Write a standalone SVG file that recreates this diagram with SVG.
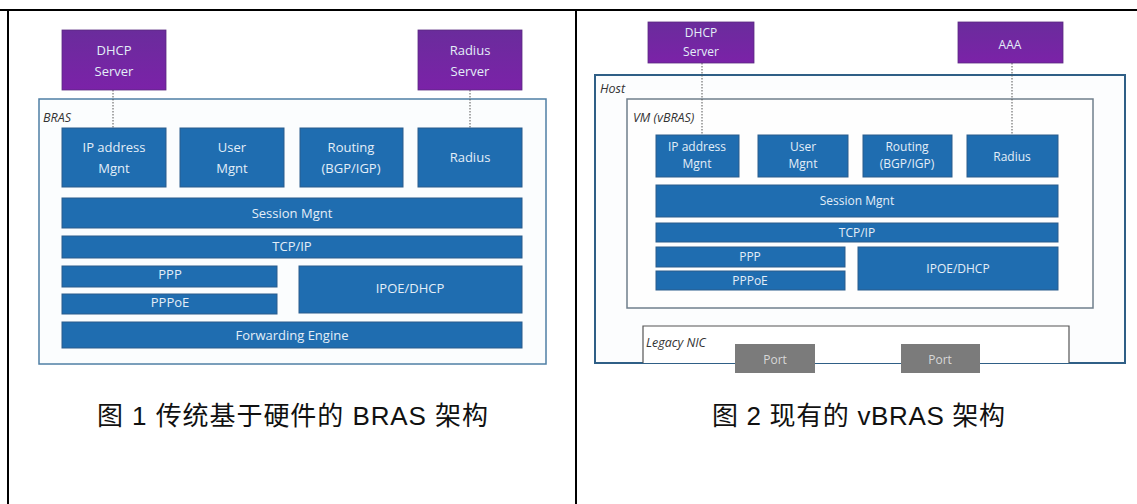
<svg xmlns="http://www.w3.org/2000/svg" width="1137" height="504" viewBox="0 0 1137 504">
<defs>
<linearGradient id="pg" x1="0" y1="0" x2="0" y2="1">
<stop offset="0" stop-color="#6a2c9c"/>
<stop offset="1" stop-color="#7b22a8"/>
</linearGradient>
<style>
.frame{stroke:#000;stroke-width:2;fill:none}
.purple{fill:url(#pg);stroke:#5a2a80;stroke-width:0.8}
.blue{fill:#1f6db0;stroke:#2a5d8c;stroke-width:1}
.port{fill:#7b7b7b}
.cont{fill:#fbfdfe;stroke:#4f7fa5;stroke-width:1.5}
.host{fill:#fcfdfe;stroke:#2f5f86;stroke-width:2}
.vm{fill:#fefefe;stroke:#6f7f8c;stroke-width:1.5}
.nic{fill:#ffffff;stroke:#555;stroke-width:1.2}
.t{font-family:"Open Sans","Liberation Sans",sans-serif;fill:#e3eef8;text-anchor:middle}
.tl{font-size:13px}
.tr{font-size:12px}
.lab{font-family:"Open Sans","Liberation Sans",sans-serif;font-style:italic;fill:#333;font-size:12.5px}
.dot{stroke:#555;stroke-width:1;stroke-dasharray:1.5 1.5;fill:none}
.cap{font-family:"Liberation Sans","Noto Sans CJK SC",sans-serif;font-size:26px;fill:#111}
</style>
</defs>

<g id="frame">
<line class="frame" x1="0" y1="10" x2="1137" y2="10"/>
<line class="frame" x1="8" y1="9" x2="8" y2="504"/>
<line class="frame" x1="576" y1="9" x2="576" y2="504"/>
</g>

<!-- Left panel -->
<g id="bras">
<rect class="cont" x="39" y="99" width="507" height="265"/>
<text class="lab" x="43" y="122">BRAS</text>
</g>

<g id="connectors">
<line class="dot" x1="113" y1="90" x2="113" y2="128"/>
<line class="dot" x1="470" y1="90" x2="470" y2="128"/>
<line class="dot" x1="702" y1="63" x2="702" y2="135"/>
<line class="dot" x1="1012" y1="63" x2="1012" y2="135"/>
</g>

<g id="l-dhcp-server">
<rect class="purple" x="62" y="30" width="104" height="60"/>
<text class="t tl" x="114" y="55">DHCP</text>
<text class="t tl" x="114" y="76">Server</text>
</g>
<g id="l-radius-server">
<rect class="purple" x="418" y="30" width="104" height="60"/>
<text class="t tl" x="470" y="55">Radius</text>
<text class="t tl" x="470" y="76">Server</text>
</g>
<g id="l-ip">
<rect class="blue" x="62" y="128" width="104" height="59"/>
<text class="t tl" x="114" y="152">IP address</text>
<text class="t tl" x="114" y="173">Mgnt</text>
</g>
<g id="l-user">
<rect class="blue" x="180" y="128" width="104" height="59"/>
<text class="t tl" x="232" y="152">User</text>
<text class="t tl" x="232" y="173">Mgnt</text>
</g>
<g id="l-routing">
<rect class="blue" x="300" y="128" width="103" height="59"/>
<text class="t tl" x="351" y="152">Routing</text>
<text class="t tl" x="351" y="173">(BGP/IGP)</text>
</g>
<g id="l-radius">
<rect class="blue" x="418" y="128" width="104" height="59"/>
<text class="t tl" x="470" y="162">Radius</text>
</g>
<g id="l-session">
<rect class="blue" x="62" y="198" width="460" height="30"/>
<text class="t tl" x="292" y="218">Session Mgnt</text>
</g>
<g id="l-tcpip">
<rect class="blue" x="62" y="236" width="460" height="22"/>
<text class="t tl" x="292" y="251">TCP/IP</text>
</g>
<g id="l-ppp">
<rect class="blue" x="62" y="266" width="215" height="21"/>
<text class="t tl" x="170" y="279">PPP</text>
</g>
<g id="l-pppoe">
<rect class="blue" x="62" y="294" width="215" height="20"/>
<text class="t tl" x="170" y="307">PPPoE</text>
</g>
<g id="l-ipoe">
<rect class="blue" x="299" y="266" width="223" height="47"/>
<text class="t tl" x="410" y="293">IPOE/DHCP</text>
</g>
<g id="l-fwd">
<rect class="blue" x="62" y="322" width="460" height="26"/>
<text class="t tl" x="292" y="340">Forwarding Engine</text>
</g>

<!-- Right panel -->
<g id="host">
<rect class="host" x="595" y="75" width="530" height="288"/>
<text class="lab" x="600" y="93">Host</text>
</g>
<g id="vm">
<rect class="vm" x="627" y="99" width="466" height="209"/>
<text class="lab" x="633" y="122">VM (vBRAS)</text>
</g>
<g id="legacy-nic">
<path class="nic" d="M643,363 V326 H1069 V363" />
<text class="lab" x="646" y="347">Legacy NIC</text>
</g>
<g id="r-connectors-over">
<line class="dot" x1="702" y1="75" x2="702" y2="135"/>
<line class="dot" x1="1012" y1="75" x2="1012" y2="135"/>
</g>
<g id="r-dhcp-server">
<rect class="purple" x="648" y="22" width="106" height="41"/>
<text class="t tr" x="701" y="37">DHCP</text>
<text class="t tr" x="701" y="56">Server</text>
</g>
<g id="r-aaa">
<rect class="purple" x="958" y="22" width="105" height="41"/>
<text class="t tr" x="1010" y="49">AAA</text>
</g>
<g id="r-ip">
<rect class="blue" x="656" y="135" width="83" height="42"/>
<text class="t tr" x="697" y="151">IP address</text>
<text class="t tr" x="697" y="168">Mgnt</text>
</g>
<g id="r-user">
<rect class="blue" x="758" y="135" width="90" height="42"/>
<text class="t tr" x="803" y="151">User</text>
<text class="t tr" x="803" y="168">Mgnt</text>
</g>
<g id="r-routing">
<rect class="blue" x="863" y="135" width="89" height="42"/>
<text class="t tr" x="907" y="151">Routing</text>
<text class="t tr" x="907" y="168">(BGP/IGP)</text>
</g>
<g id="r-radius">
<rect class="blue" x="967" y="135" width="91" height="42"/>
<text class="t tr" x="1012" y="161">Radius</text>
</g>
<g id="r-session">
<rect class="blue" x="656" y="185" width="402" height="32"/>
<text class="t tr" x="857" y="205">Session Mgnt</text>
</g>
<g id="r-tcpip">
<rect class="blue" x="656" y="223" width="402" height="19"/>
<text class="t tr" x="857" y="237">TCP/IP</text>
</g>
<g id="r-ppp">
<rect class="blue" x="656" y="247" width="189" height="20"/>
<text class="t tr" x="750" y="261">PPP</text>
</g>
<g id="r-pppoe">
<rect class="blue" x="656" y="271" width="189" height="19"/>
<text class="t tr" x="750" y="285">PPPoE</text>
</g>
<g id="r-ipoe">
<rect class="blue" x="858" y="247" width="200" height="43"/>
<text class="t tr" x="958" y="273">IPOE/DHCP</text>
</g>
<g id="port1">
<rect class="port" x="735" y="344" width="80" height="29"/>
<text class="t tr" x="775" y="364" style="fill:#d8d8d8">Port</text>
</g>
<g id="port2">
<rect class="port" x="901" y="344" width="79" height="29"/>
<text class="t tr" x="940" y="364" style="fill:#d8d8d8">Port</text>
</g>

<g id="captions">
<text class="cap" x="97" y="425" textLength="391" lengthAdjust="spacing">图 1 传统基于硬件的 BRAS 架构</text>
<text class="cap" x="712" y="425" textLength="293" lengthAdjust="spacing">图 2 现有的 vBRAS 架构</text>
</g>
</svg>
